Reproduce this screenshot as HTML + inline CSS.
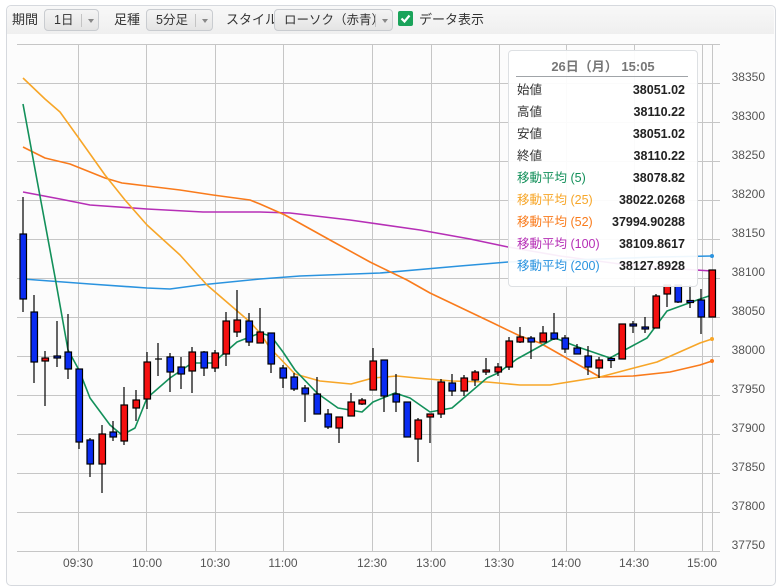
<!DOCTYPE html>
<html><head><meta charset="utf-8"><style>
html,body{margin:0;padding:0;background:#fff;}
body{width:782px;height:587px;position:relative;overflow:hidden;font-family:"Liberation Sans","Noto Sans CJK JP",sans-serif;}
.panel{position:absolute;left:6px;top:5px;width:768px;height:579px;border:1px solid #d6d9de;border-radius:5px;background:#fcfcfc;}
.tb{position:absolute;left:7px;top:6px;width:767px;height:28px;background:linear-gradient(#f8f8f8,#efefef);border-radius:5px 5px 0 0;}
.lbl{position:absolute;top:11px;font-size:13px;line-height:18px;color:#333;white-space:nowrap;}
.btn{position:absolute;top:9px;height:22px;border:1px solid #c9ccd0;border-radius:4px;background:linear-gradient(#f4f4f4,#e4e4e4);font-size:12.5px;color:#333;line-height:20px;box-sizing:border-box;white-space:nowrap;}
.btn span{position:absolute;left:9px;}
.btn i{position:absolute;top:4px;width:1px;height:13px;background:#c4c4c4;}
.btn b{position:absolute;top:9px;width:0;height:0;border-left:3px solid transparent;border-right:3px solid transparent;border-top:4px solid #888;}
.tip{position:absolute;left:508px;top:50px;width:188px;height:235px;border:1px solid #dde0e3;border-radius:4px;background:rgba(255,255,255,0.92);font-size:12.5px;}
.tip .t{position:absolute;left:0;width:188px;top:8px;line-height:16px;text-align:center;font-weight:bold;color:#777;font-size:13px;}
.tip .ln{position:absolute;left:7px;top:25px;width:172px;height:1px;background:#a0a4a8;}
.r{position:absolute;left:8px;width:168px;height:18px;line-height:18px;}
.r .k{position:absolute;left:0;top:0;line-height:18px;}
.r .v{position:absolute;right:0;top:0;line-height:18px;font-weight:bold;color:#222;}
</style></head><body>
<div class="panel"></div>
<div class="tb"></div>
<div class="lbl" style="left:12px">期間</div>
<div class="btn" style="left:44px;width:55px"><span>1日</span><i style="left:36px"></i><b style="left:43px"></b></div>
<div class="lbl" style="left:114px">足種</div>
<div class="btn" style="left:146px;width:67px"><span>5分足</span><i style="left:48px"></i><b style="left:55px"></b></div>
<div class="lbl" style="left:226px">スタイル</div>
<div class="btn" style="left:274px;width:119px"><span>ローソク（赤青）</span><i style="left:100px"></i><b style="left:107px"></b></div>
<div style="position:absolute;left:398px;top:11px;width:15px;height:15px;background:#1aa35a;border-radius:2px;"><svg width="15" height="15"><path d="M3.5 7.5 L6.5 10.5 L11.5 4.5" stroke="#fff" stroke-width="2.2" fill="none"/></svg></div>
<div class="lbl" style="left:419px">データ表示</div>

<svg style="position:absolute;left:0;top:0" width="782" height="587">
<g stroke="#c6c6c6" stroke-width="1">
<line x1="17" y1="44.5" x2="720" y2="44.5"/>
<line x1="17" y1="83.5" x2="720" y2="83.5"/><line x1="17" y1="122.5" x2="720" y2="122.5"/><line x1="17" y1="161.5" x2="720" y2="161.5"/><line x1="17" y1="200.5" x2="720" y2="200.5"/><line x1="17" y1="239.5" x2="720" y2="239.5"/><line x1="17" y1="278.5" x2="720" y2="278.5"/><line x1="17" y1="317.5" x2="720" y2="317.5"/><line x1="17" y1="356.5" x2="720" y2="356.5"/><line x1="17" y1="395.5" x2="720" y2="395.5"/><line x1="17" y1="434.5" x2="720" y2="434.5"/><line x1="17" y1="473.5" x2="720" y2="473.5"/><line x1="17" y1="512.5" x2="720" y2="512.5"/><line x1="17" y1="551.5" x2="720" y2="551.5"/>
<line x1="78.5" y1="44" x2="78.5" y2="551"/><line x1="146.5" y1="44" x2="146.5" y2="551"/><line x1="215.5" y1="44" x2="215.5" y2="551"/><line x1="283.5" y1="44" x2="283.5" y2="551"/><line x1="372.5" y1="44" x2="372.5" y2="551"/><line x1="431.5" y1="44" x2="431.5" y2="551"/><line x1="499.5" y1="44" x2="499.5" y2="551"/><line x1="566.5" y1="44" x2="566.5" y2="551"/><line x1="634.5" y1="44" x2="634.5" y2="551"/><line x1="702.5" y1="44" x2="702.5" y2="551"/><line x1="712.5" y1="44" x2="712.5" y2="551"/>
</g>
<g font-family="Liberation Sans, sans-serif" font-size="12" fill="#555" text-anchor="end">
<text x="765" y="81">38350</text><text x="765" y="120">38300</text><text x="765" y="159">38250</text><text x="765" y="198">38200</text><text x="765" y="237">38150</text><text x="765" y="276">38100</text><text x="765" y="315">38050</text><text x="765" y="354">38000</text><text x="765" y="393">37950</text><text x="765" y="432">37900</text><text x="765" y="471">37850</text><text x="765" y="510">37800</text><text x="765" y="549">37750</text>
</g>
<g font-family="Liberation Sans, sans-serif" font-size="12" fill="#555" text-anchor="middle">
<text x="78" y="567">09:30</text><text x="147" y="567">10:00</text><text x="215" y="567">10:30</text><text x="283" y="567">11:00</text><text x="372" y="567">12:30</text><text x="431" y="567">13:00</text><text x="499" y="567">13:30</text><text x="566" y="567">14:00</text><text x="634" y="567">14:30</text><text x="702" y="567">15:00</text>
</g>
<g fill="none" stroke-width="1.6" stroke-linejoin="round">
<polyline stroke="#b62fb6" points="23,192 60,199 90,205 147,209 203,212 260,212 290,213 350,220 420,230 470,239 508,247 560,256 620,264 680,269 712,271"/>
<polyline stroke="#2a93df" points="23,279 90,284 147,288 170,289 200,285 260,279 300,276 380,273 460,266 508,262 600,259 660,257 712,256"/>
<polyline stroke="#f97b1c" points="23,147 45,158 70,164 90,172 105,178 122,183 147,186 180,190 213,195 250,200 260,204 285,215 330,240 370,262 407,280 430,293 493,323 520,336 540,343 570,360 600,377 633,376 670,372 700,365 712,361"/>
<polyline stroke="#f7a628" points="23,78 45,99 60,112 78,137 105,175 125,200 147,225 180,255 207,285 250,322 260,333 270,348 295,374 320,381 351,384 373,378 397,376 417,378 452,381 487,382 520,385 550,385 600,377 630,369 657,362 700,343 712,339"/>
<polyline stroke="#13905a" points="23,104 37,180 55,277 68,350 79,370 90,398 110,425 122,435 135,428 147,398 170,378 192,363 213,363 237,342 260,333 271,336 283,352 295,370 317,393 338,408 362,412 373,402 395,393 410,398 430,412 452,408 487,378 498,373 517,359 555,338 578,347 610,358 647,338 667,311 700,299 712,295"/>
</g>
<circle cx="712" cy="339" r="2" fill="#f7a628"/><circle cx="712" cy="361" r="2" fill="#f97b1c"/><circle cx="712" cy="256" r="2" fill="#2a93df"/>
<g stroke="#000" stroke-width="1.2">
<line x1="23" y1="197" x2="23" y2="312"/><rect x="20" y="234" width="6.5" height="65" fill="#0a2cf2"/>
<line x1="34" y1="295" x2="34" y2="383"/><rect x="31" y="312" width="6.5" height="50" fill="#0a2cf2"/>
<line x1="45" y1="351" x2="45" y2="406"/><rect x="42" y="358" width="6.5" height="3" fill="#f51010"/>
<line x1="57" y1="321" x2="57" y2="367"/><rect x="54" y="356" width="6.5" height="2" fill="#0a2cf2"/>
<line x1="68" y1="314" x2="68" y2="379"/><rect x="65" y="352" width="6.5" height="17" fill="#0a2cf2"/>
<line x1="79" y1="369" x2="79" y2="449"/><rect x="76" y="369" width="6.5" height="73" fill="#0a2cf2"/>
<line x1="90" y1="438" x2="90" y2="477"/><rect x="87" y="440" width="6.5" height="24" fill="#0a2cf2"/>
<line x1="102" y1="425" x2="102" y2="493"/><rect x="99" y="434" width="6.5" height="30" fill="#f51010"/>
<line x1="113" y1="421" x2="113" y2="441"/><rect x="110" y="432" width="6.5" height="5" fill="#0a2cf2"/>
<line x1="124" y1="387" x2="124" y2="445"/><rect x="121" y="405" width="6.5" height="36" fill="#f51010"/>
<line x1="136" y1="390" x2="136" y2="421"/><rect x="133" y="400" width="6.5" height="8" fill="#f51010"/>
<line x1="147" y1="352" x2="147" y2="409"/><rect x="144" y="362" width="6.5" height="37" fill="#f51010"/>
<line x1="158" y1="343" x2="158" y2="376"/><line x1="155" y1="359" x2="162" y2="359"/>
<line x1="170" y1="353" x2="170" y2="392"/><rect x="167" y="357" width="6.5" height="15" fill="#0a2cf2"/>
<line x1="181" y1="357" x2="181" y2="389"/><rect x="178" y="367" width="6.5" height="7" fill="#0a2cf2"/>
<line x1="192" y1="347" x2="192" y2="393"/><rect x="189" y="352" width="6.5" height="19" fill="#f51010"/>
<line x1="204" y1="351" x2="204" y2="376"/><rect x="201" y="352" width="6.5" height="16" fill="#0a2cf2"/>
<line x1="215" y1="350" x2="215" y2="372"/><rect x="212" y="353" width="6.5" height="15" fill="#f51010"/>
<line x1="226" y1="312" x2="226" y2="366"/><rect x="223" y="321" width="6.5" height="33" fill="#f51010"/>
<line x1="237" y1="290" x2="237" y2="337"/><rect x="234" y="320" width="6.5" height="12" fill="#f51010"/>
<line x1="249" y1="313" x2="249" y2="346"/><rect x="246" y="321" width="6.5" height="21" fill="#0a2cf2"/>
<line x1="260" y1="308" x2="260" y2="343"/><rect x="257" y="332" width="6.5" height="11" fill="#f51010"/>
<line x1="271" y1="333" x2="271" y2="373"/><rect x="268" y="333" width="6.5" height="31" fill="#0a2cf2"/>
<line x1="283" y1="365" x2="283" y2="388"/><rect x="280" y="368" width="6.5" height="10" fill="#0a2cf2"/>
<line x1="294" y1="373" x2="294" y2="391"/><rect x="291" y="377" width="6.5" height="12" fill="#0a2cf2"/>
<line x1="305" y1="385" x2="305" y2="422"/><rect x="302" y="388" width="6.5" height="6" fill="#0a2cf2"/>
<line x1="317" y1="377" x2="317" y2="414"/><rect x="314" y="394" width="6.5" height="20" fill="#0a2cf2"/>
<line x1="328" y1="409" x2="328" y2="429"/><rect x="325" y="414" width="6.5" height="13" fill="#0a2cf2"/>
<line x1="339" y1="417" x2="339" y2="443"/><rect x="336" y="417" width="6.5" height="11" fill="#f51010"/>
<line x1="351" y1="393" x2="351" y2="416"/><rect x="348" y="402" width="6.5" height="14" fill="#f51010"/>
<line x1="362" y1="398" x2="362" y2="405"/><rect x="359" y="400" width="6.5" height="4" fill="#f51010"/>
<line x1="373" y1="348" x2="373" y2="390"/><rect x="370" y="361" width="6.5" height="29" fill="#f51010"/>
<line x1="384" y1="360" x2="384" y2="412"/><rect x="381" y="360" width="6.5" height="36" fill="#0a2cf2"/>
<line x1="396" y1="374" x2="396" y2="412"/><rect x="393" y="394" width="6.5" height="8" fill="#0a2cf2"/>
<line x1="407" y1="402" x2="407" y2="437"/><rect x="404" y="402" width="6.5" height="35" fill="#0a2cf2"/>
<line x1="418" y1="418" x2="418" y2="462"/><rect x="415" y="420" width="6.5" height="19" fill="#f51010"/>
<line x1="430" y1="414" x2="430" y2="443"/><rect x="427" y="414" width="6.5" height="3" fill="#f51010"/>
<line x1="441" y1="379" x2="441" y2="418"/><rect x="438" y="382" width="6.5" height="32" fill="#f51010"/>
<line x1="452" y1="374" x2="452" y2="396"/><rect x="449" y="383" width="6.5" height="8" fill="#0a2cf2"/>
<line x1="464" y1="375" x2="464" y2="396"/><rect x="461" y="378" width="6.5" height="13" fill="#f51010"/>
<line x1="475" y1="370" x2="475" y2="386"/><rect x="472" y="372" width="6.5" height="8" fill="#f51010"/>
<line x1="486" y1="358" x2="486" y2="375"/><rect x="483" y="370" width="6.5" height="2" fill="#f51010"/>
<line x1="498" y1="363" x2="498" y2="376"/><rect x="495" y="367" width="6.5" height="5" fill="#f51010"/>
<line x1="509" y1="337" x2="509" y2="370"/><rect x="506" y="341" width="6.5" height="26" fill="#f51010"/>
<line x1="520" y1="327" x2="520" y2="343"/><rect x="517" y="337" width="6.5" height="5" fill="#f51010"/>
<line x1="531" y1="336" x2="531" y2="359"/><rect x="528" y="338" width="6.5" height="4" fill="#0a2cf2"/>
<line x1="543" y1="326" x2="543" y2="342"/><rect x="540" y="333" width="6.5" height="9" fill="#f51010"/>
<line x1="554" y1="313" x2="554" y2="340"/><rect x="551" y="333" width="6.5" height="6" fill="#0a2cf2"/>
<line x1="565" y1="335" x2="565" y2="353"/><rect x="562" y="338" width="6.5" height="11" fill="#0a2cf2"/>
<line x1="577" y1="344" x2="577" y2="354"/><rect x="574" y="348" width="6.5" height="6" fill="#0a2cf2"/>
<line x1="588" y1="346" x2="588" y2="375"/><rect x="585" y="356" width="6.5" height="11" fill="#0a2cf2"/>
<line x1="599" y1="357" x2="599" y2="378"/><rect x="596" y="360" width="6.5" height="8" fill="#f51010"/>
<line x1="611" y1="357" x2="611" y2="368"/><rect x="608" y="358.5" width="6.5" height="2" fill="#0a2cf2"/>
<line x1="622" y1="324" x2="622" y2="359"/><rect x="619" y="324" width="6.5" height="35" fill="#f51010"/>
<line x1="633" y1="321" x2="633" y2="333"/><rect x="630" y="324" width="6.5" height="2" fill="#0a2cf2"/>
<line x1="645" y1="317" x2="645" y2="333"/><rect x="642" y="327" width="6.5" height="2" fill="#0a2cf2"/>
<line x1="656" y1="294" x2="656" y2="328"/><rect x="653" y="296" width="6.5" height="32" fill="#f51010"/>
<line x1="667" y1="285" x2="667" y2="307"/><rect x="664" y="285" width="6.5" height="9" fill="#f51010"/>
<line x1="678" y1="285" x2="678" y2="303"/><rect x="675" y="285" width="6.5" height="17" fill="#0a2cf2"/>
<line x1="690" y1="285" x2="690" y2="308"/><rect x="687" y="300.5" width="6.5" height="2" fill="#0a2cf2"/>
<line x1="701" y1="289" x2="701" y2="334"/><rect x="698" y="300" width="6.5" height="17" fill="#0a2cf2"/>
<rect x="709" y="270" width="6.5" height="47" fill="#f51010"/>
</g>
</svg>

<div class="tip">
<div class="t">26日（月） 15:05</div><div class="ln"></div>
<div class="r" style="top:30px"><span class="k" style="color:#333">始値</span><span class="v">38051.02</span></div>
<div class="r" style="top:52px"><span class="k" style="color:#333">高値</span><span class="v">38110.22</span></div>
<div class="r" style="top:74px"><span class="k" style="color:#333">安値</span><span class="v">38051.02</span></div>
<div class="r" style="top:96px"><span class="k" style="color:#333">終値</span><span class="v">38110.22</span></div>
<div class="r" style="top:118px"><span class="k" style="color:#13905a">移動平均 (5)</span><span class="v">38078.82</span></div>
<div class="r" style="top:140px"><span class="k" style="color:#f7a628">移動平均 (25)</span><span class="v">38022.0268</span></div>
<div class="r" style="top:162px"><span class="k" style="color:#f97b1c">移動平均 (52)</span><span class="v">37994.90288</span></div>
<div class="r" style="top:184px"><span class="k" style="color:#b62fb6">移動平均 (100)</span><span class="v">38109.8617</span></div>
<div class="r" style="top:206px"><span class="k" style="color:#2a93df">移動平均 (200)</span><span class="v">38127.8928</span></div>
</div>
</body></html>
